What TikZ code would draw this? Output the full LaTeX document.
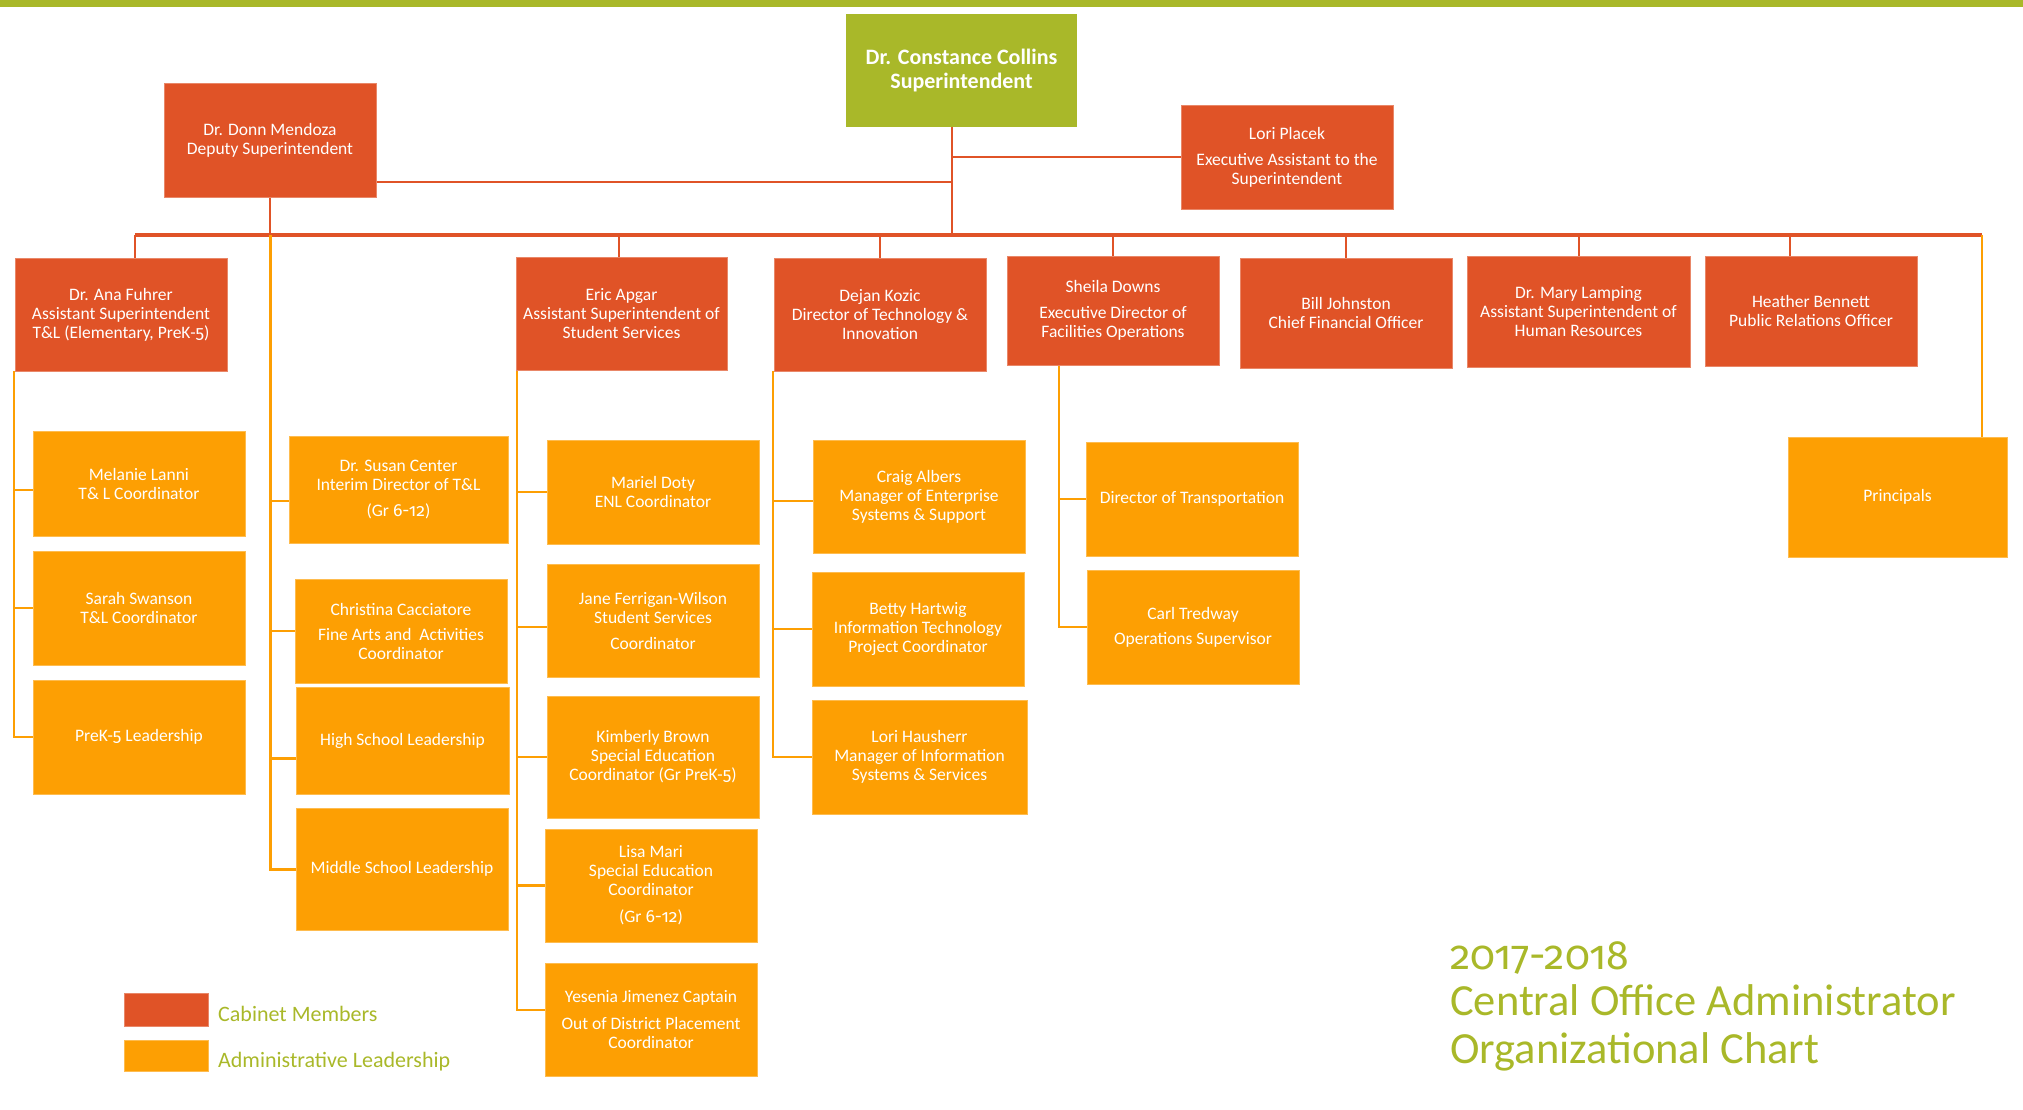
\documentclass[tikz,border=0pt]{standalone}
\usepackage{fontspec}
\setmainfont{Carlito}
\newfontfamily\osffont{Fira Sans}[Numbers=OldStyle]
\newcommand{\osf}[1]{{\osffont #1}}
\usetikzlibrary{backgrounds}
\definecolor{cabred}{RGB}{224,83,39}
\definecolor{admor}{RGB}{253,159,3}
\definecolor{supgr}{RGB}{169,184,41}
\tikzset{
  box/.style={rectangle, inner sep=0pt, align=center, text=white, font=\fontsize{17.5}{19}\selectfont},
  cab/.style={box, fill=cabred, draw=cabred!70!white, line width=0.8pt},
  adm/.style={box, fill=admor, draw=admor!70!white, line width=0.8pt},
  sup/.style={box, fill=supgr, font=\bfseries\fontsize{22}{24}\selectfont},
  rl/.style={draw=cabred, line width=2.2pt},
  busline/.style={draw=cabred, line width=3.5pt},
  ol/.style={draw=admor, line width=2.5pt},
  legtext/.style={text=supgr, inner sep=0pt, font=\fontsize{22}{26}\selectfont},
  titletext/.style={text=supgr, inner sep=0pt, font=\fontsize{44.5}{47}\selectfont}
}
\begin{document}
\begin{tikzpicture}[x=1pt,y=-1pt]
\useasboundingbox (0,0) rectangle (2023,1109);
\fill[supgr] (0,0) rectangle (2023,7);

% cabinet level
\node[sup, minimum width=231pt, minimum height=113pt] (Collins) at (961.5,70.5) {Dr. Constance Collins\\Superintendent};
\node[cab, minimum width=212pt, minimum height=114pt] (Mendoza) at (270,140) {Dr. Donn Mendoza\\Deputy Superintendent};
\node[cab, minimum width=212pt, minimum height=104pt] (Lori) at (1287,157) {Lori Placek\\[7pt]Executive Assistant to the\\Superintendent};
\node[cab, minimum width=212pt, minimum height=113pt] (Ana) at (121,314.5) {Dr. Ana Fuhrer\\Assistant Superintendent\\T\&L (Elementary, PreK-\osf{5})};
\node[cab, minimum width=211pt, minimum height=113pt] (Eric) at (621.5,313.5) {Eric Apgar\\Assistant Superintendent of\\Student Services};
\node[cab, minimum width=212pt, minimum height=113pt] (Dejan) at (880,314.5) {Dejan Kozic\\Director of Technology \&\\Innovation};
\node[cab, minimum width=212pt, minimum height=109pt] (Sheila) at (1113,310.5) {Sheila Downs\\[7pt]Executive Director of\\Facilities Operations};
\node[cab, minimum width=212pt, minimum height=110pt] (Bill) at (1346,313) {Bill Johnston\\Chief Financial Officer};
\node[cab, minimum width=223pt, minimum height=111pt] (Mary) at (1578.5,311.5) {Dr. Mary Lamping\\Assistant Superintendent of\\Human Resources};
\node[cab, minimum width=212pt, minimum height=110pt] (Heather) at (1811,311) {Heather Bennett\\Public Relations Officer};

% administrative leadership
\node[adm, minimum width=212pt, minimum height=105pt] (Melanie) at (139,483.5) {Melanie Lanni\\T\& L Coordinator};
\node[adm, minimum width=212pt, minimum height=114pt] (Sarah) at (139,608) {Sarah Swanson\\T\&L Coordinator};
\node[adm, minimum width=212pt, minimum height=114pt] (PreK) at (139,737) {PreK-\osf{5} Leadership};
\node[adm, minimum width=219pt, minimum height=107pt] (Susan) at (398.5,489.5) {Dr. Susan Center\\Interim Director of T\&L\\[7pt](Gr \osf{6-12})};
\node[adm, minimum width=212pt, minimum height=104pt] (Christina) at (401,631) {Christina Cacciatore\\[6pt]Fine Arts and\ \ Activities\\Coordinator};
\node[adm, minimum width=213pt, minimum height=107pt] (High) at (402.5,740.5) {High School Leadership};
\node[adm, minimum width=212pt, minimum height=122pt] (Middle) at (402,869) {Middle School Leadership};
\node[adm, minimum width=212pt, minimum height=104pt] (Mariel) at (653,492) {Mariel Doty\\ENL Coordinator};
\node[adm, minimum width=212pt, minimum height=113pt] (Jane) at (653,620.5) {Jane Ferrigan-Wilson\\Student Services\\[7pt]Coordinator};
\node[adm, minimum width=212pt, minimum height=122pt] (Kimberly) at (653,757) {Kimberly Brown\\Special Education\\Coordinator (Gr PreK-\osf{5})};
\node[adm, minimum width=212pt, minimum height=113pt] (Lisa) at (651,885.5) {Lisa Mari\\Special Education\\Coordinator\\[8pt](Gr \osf{6-12})};
\node[adm, minimum width=212pt, minimum height=113pt] (Yesenia) at (651,1019.5) {Yesenia Jimenez Captain\\[8pt]Out of District Placement\\Coordinator};
\node[adm, minimum width=212pt, minimum height=113pt] (Craig) at (919,496.5) {Craig Albers\\Manager of Enterprise\\Systems \& Support};
\node[adm, minimum width=212pt, minimum height=114pt] (Betty) at (918,629) {Betty Hartwig\\Information Technology\\Project Coordinator};
\node[adm, minimum width=215pt, minimum height=114pt] (LoriH) at (919.5,757) {Lori Hausherr\\Manager of Information\\Systems \& Services};
\node[adm, minimum width=212pt, minimum height=114pt] (Transport) at (1192,499) {Director of Transportation};
\node[adm, minimum width=212pt, minimum height=114pt] (Carl) at (1193,627) {Carl Tredway\\[6pt]Operations Supervisor};
\node[adm, minimum width=219pt, minimum height=120pt] (Principals) at (1897.5,497) {Principals};

% connector coordinates
\coordinate (trunk) at (952,235);
\coordinate (mj) at (952,182);
\coordinate (busL) at (135,235);
\coordinate (busR) at (1982,235);
\coordinate (dEric) at (619,235);
\coordinate (dDejan) at (880,235);
\coordinate (dSheila) at (1113,235);
\coordinate (dBill) at (1346,235);
\coordinate (dMary) at (1579,235);
\coordinate (dHeather) at (1790,235);
\coordinate (av) at (14,0);
\coordinate (ev) at (517,0);
\coordinate (kv) at (773,0);
\coordinate (sv) at (1059,0);
\coordinate (pMelanie) at ([yshift=-6.5pt]Melanie.west);
\coordinate (pSusan) at ([yshift=-11.5pt]Susan.west);
\coordinate (pHigh) at ([yshift=-17.5pt]High.west);
\coordinate (pYesenia) at ([yshift=9.5pt]Yesenia.west);
\coordinate (pJane) at ([yshift=-6.5pt]Jane.west);
\coordinate (pCraig) at ([yshift=-4.5pt]Craig.west);

\begin{pgfonlayer}{background}
% red connectors
\draw[rl] (Collins.south -| trunk) -- (trunk);
\draw[rl] (trunk |- Lori.west) -- (Lori.west);
\draw[rl] (Mendoza.east |- mj) -- (mj);
\draw[busline] (busL) -- (busR);
\draw[rl] (busL) -- (busL |- Ana.north);
\draw[rl] (dEric) -- (dEric |- Eric.north);
\draw[rl] (dDejan) -- (dDejan |- Dejan.north);
\draw[rl] (dSheila) -- (dSheila |- Sheila.north);
\draw[rl] (dBill) -- (dBill |- Bill.north);
\draw[rl] (dMary) -- (dMary |- Mary.north);
\draw[rl] (dHeather) -- (dHeather |- Heather.north);
\draw[rl] (Mendoza.south) -- (Mendoza.south |- busL);
% orange connectors
\draw[ol] (av |- Ana.south) -- (av |- PreK.west) -- (PreK.west);
\draw[ol] (av |- pMelanie) -- (pMelanie);
\draw[ol] (av |- Sarah.west) -- (Sarah.west);
\draw[ol, line width=3pt] (Mendoza.south |- busL) -- (Mendoza.south |- Middle.west) -- (Middle.west);
\draw[ol] (Mendoza.south |- pSusan) -- (pSusan);
\draw[ol] (Mendoza.south |- Christina.west) -- (Christina.west);
\draw[ol, line width=3pt] (Mendoza.south |- pHigh) -- (pHigh);
\draw[ol] (ev |- Eric.south) -- (ev |- pYesenia) -- (pYesenia);
\draw[ol] (ev |- Mariel.west) -- (Mariel.west);
\draw[ol] (ev |- pJane) -- (pJane);
\draw[ol] (ev |- Kimberly.west) -- (Kimberly.west);
\draw[ol] (ev |- Lisa.west) -- (Lisa.west);
\draw[ol] (kv |- Dejan.south) -- (kv |- LoriH.west) -- (LoriH.west);
\draw[ol] (kv |- pCraig) -- (pCraig);
\draw[ol] (kv |- Betty.west) -- (Betty.west);
\draw[ol] (sv |- Sheila.south) -- (sv |- Carl.west) -- (Carl.west);
\draw[ol] (sv |- Transport.west) -- (Transport.west);
\draw[ol] (busR) -- (busR |- Principals.north);
\end{pgfonlayer}

% legend
\node[cab, minimum width=84pt, minimum height=33pt] (legC) at (166,1009.5) {};
\node[adm, minimum width=84pt, minimum height=31pt] (legA) at (166,1055.5) {};
\node[legtext, anchor=base west] (legCt) at (218,1021) {Cabinet Members};
\node[legtext, anchor=base west] (legAt) at (218,1067) {Administrative Leadership};

% title
\node[titletext, anchor=base west] (t1) at (1450,969) {{\osffont\fontsize{41}{47}\selectfont 2017-2018}};
\node[titletext, anchor=base west] (t2) at (1450,1015) {Central Office Administrator};
\node[titletext, anchor=base west] (t3) at (1450,1063) {Organizational Chart};
\end{tikzpicture}
\end{document}
